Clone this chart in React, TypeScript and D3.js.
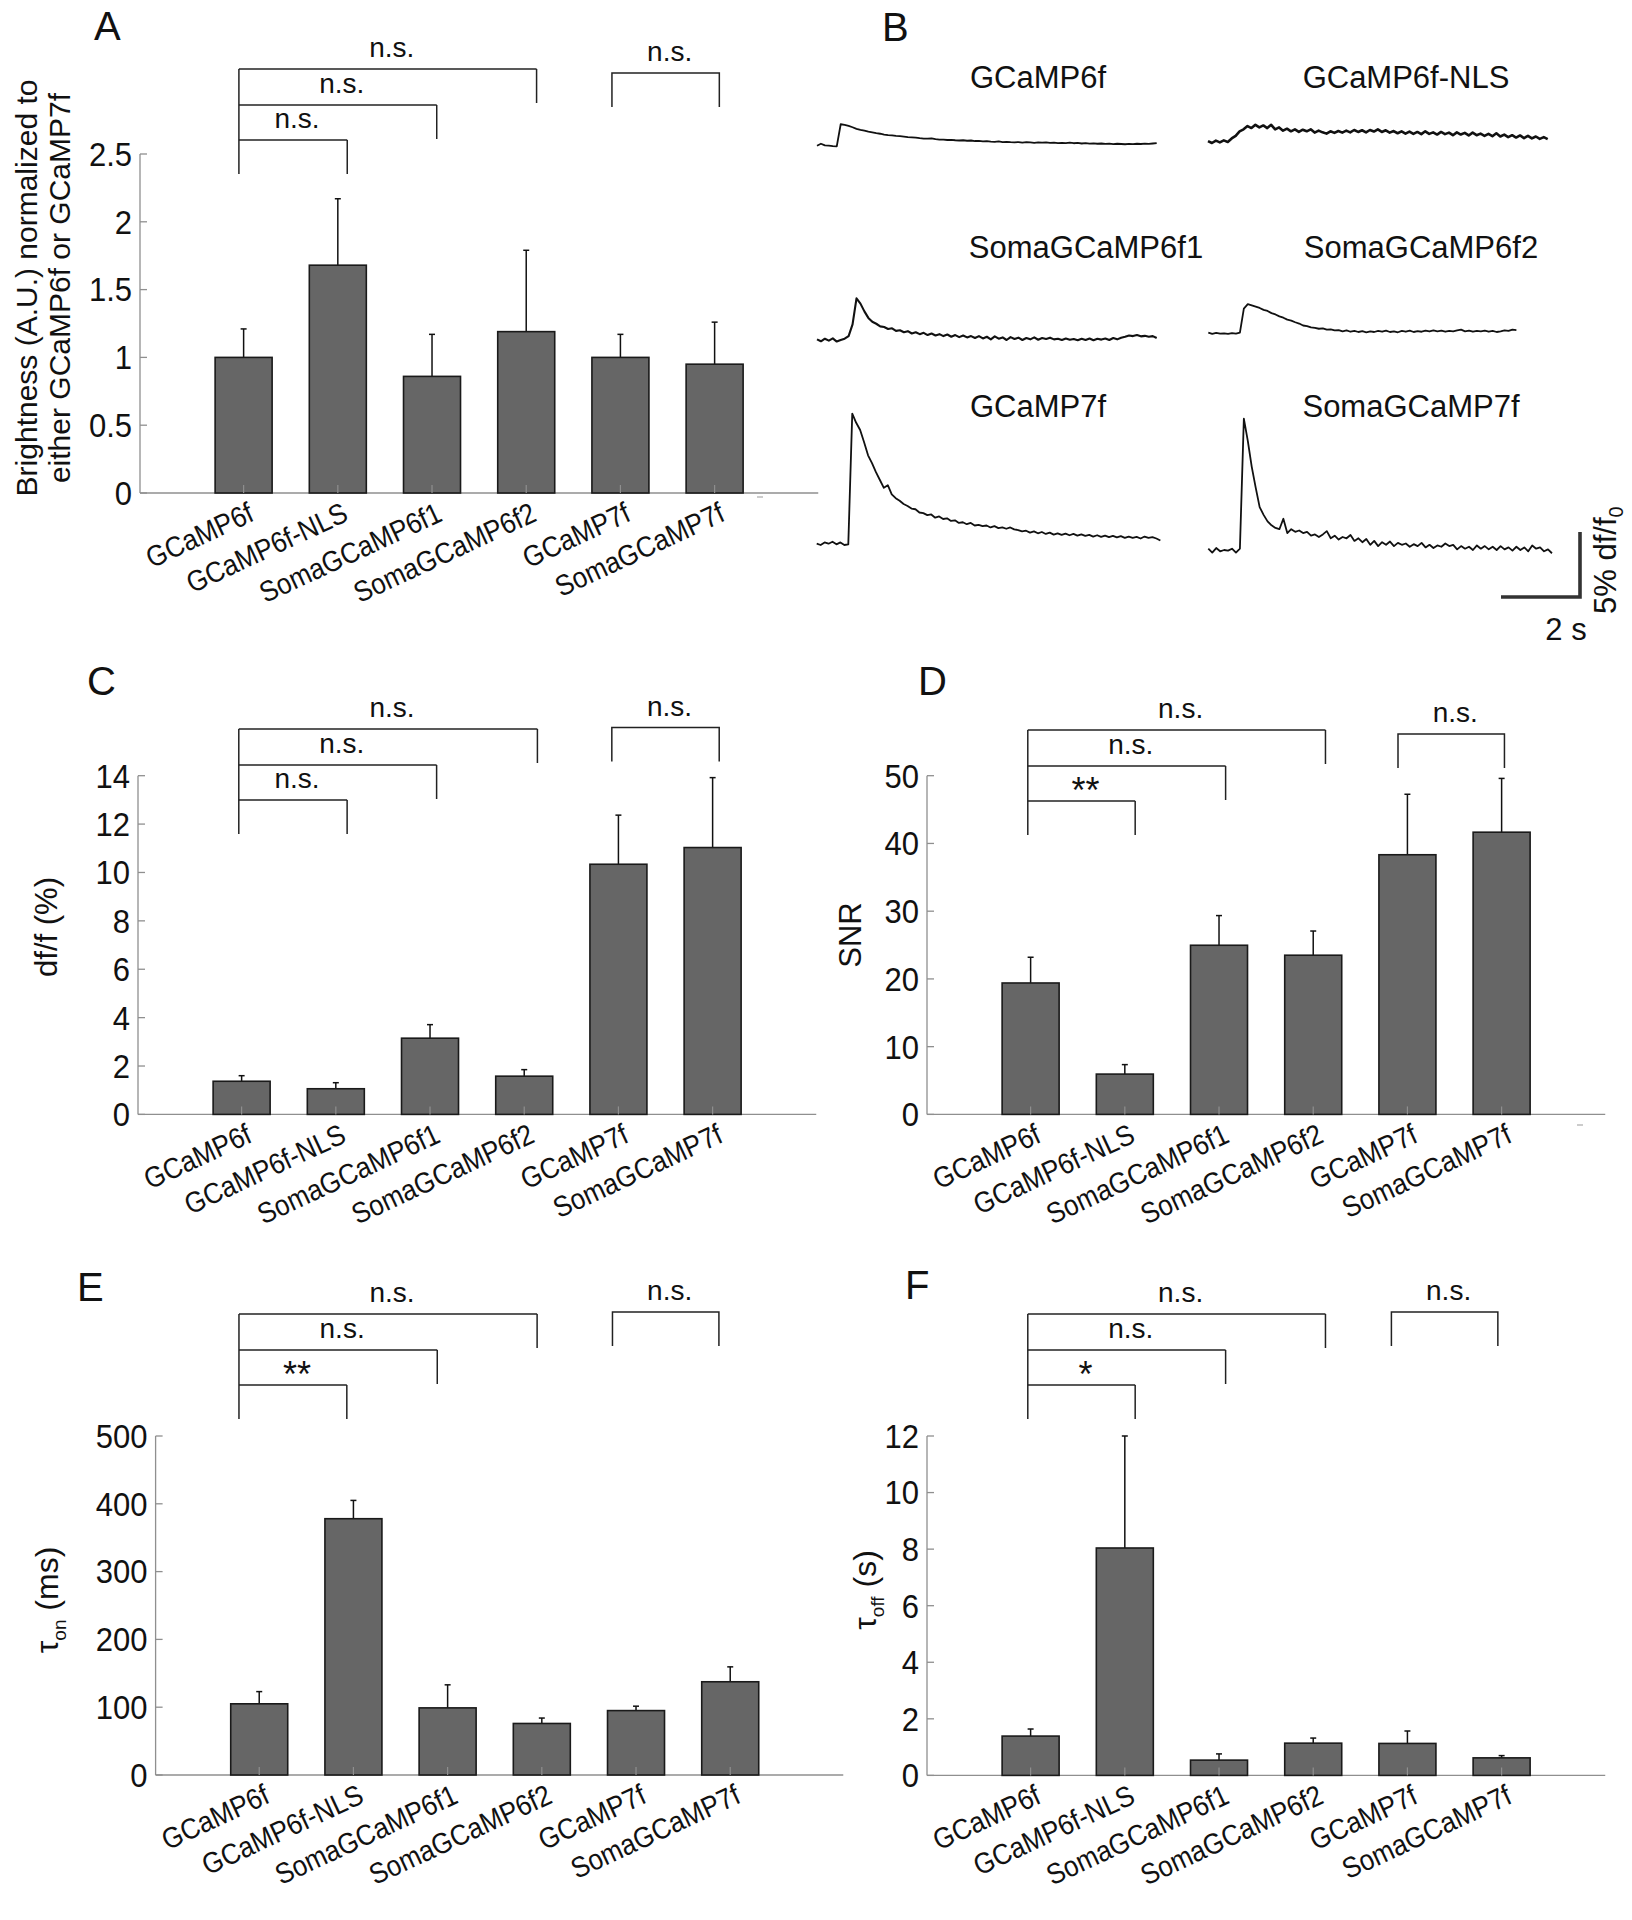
import * as d3 from 'd3';

const FONT = '"Liberation Sans", Arial, Helvetica, sans-serif';

const categories = ['GCaMP6f', 'GCaMP6f-NLS', 'SomaGCaMP6f1', 'SomaGCaMP6f2', 'GCaMP7f', 'SomaGCaMP7f'];

// Panel A: brightness (normalized)
const brightnessMean = [1.0, 1.68, 0.86, 1.19, 1.0, 0.95];
const brightnessSem = [0.21, 0.49, 0.31, 0.6, 0.17, 0.31];
const brightnessTicks = [0, 0.5, 1, 1.5, 2, 2.5];
const brightnessSig = ['n.s.', 'n.s.', 'n.s.', 'n.s.'];

// Panel C: df/f (%)
const dffMean = [1.37, 1.06, 3.15, 1.58, 10.34, 11.03];
const dffSem = [0.23, 0.25, 0.56, 0.27, 2.03, 2.89];
const dffTicks = [0, 2, 4, 6, 8, 10, 12, 14];
const dffSig = ['n.s.', 'n.s.', 'n.s.', 'n.s.'];

// Panel D: SNR
const snrMean = [19.4, 5.95, 24.97, 23.5, 38.33, 41.66];
const snrSem = [3.8, 1.4, 4.38, 3.57, 8.93, 7.94];
const snrTicks = [0, 10, 20, 30, 40, 50];
const snrSig = ['n.s.', 'n.s.', '**', 'n.s.'];

// Panel E: tau on (ms)
const tauOnMean = [105, 378, 99, 76, 95, 137.5];
const tauOnSem = [18, 27, 34, 8, 6.5, 22];
const tauOnTicks = [0, 100, 200, 300, 400, 500];
const tauOnSig = ['n.s.', 'n.s.', '**', 'n.s.'];

// Panel F: tau off (s)
const tauOffMean = [1.39, 8.04, 0.54, 1.14, 1.13, 0.62];
const tauOffSem = [0.25, 3.96, 0.22, 0.18, 0.44, 0.08];
const tauOffTicks = [0, 2, 4, 6, 8, 10, 12];
const tauOffSig = ['n.s.', 'n.s.', '*', 'n.s.'];

// bracket ends in category units: [left, top end, middle end, low end, right pair a, right pair b]
const bracketsA = [0.95, 4.11, 3.05, 2.1, 4.91, 6.05];
const bracketsC = [0.97, 4.14, 3.07, 2.12, 4.93, 6.07];
const bracketsD = [0.97, 4.13, 3.07, 2.11, 4.9, 6.03];
const bracketsE = [0.785, 3.95, 2.89, 1.93, 4.75, 5.88];
const bracketsF = [0.97, 4.13, 3.07, 2.11, 4.83, 5.96];

// Panel B: example traces, df/f (%) sampled every 0.1 s
const traceGCaMP6f = [0, 0.15, 0.02, 0, -0.03, -0.05, 1.65, 1.6, 1.52, 1.42, 1.3, 1.22, 1.16, 1.08, 1.02, 0.96, 0.92, 0.86, 0.82, 0.8, 0.76, 0.73, 0.7, 0.66, 0.64, 0.62, 0.58, 0.55, 0.54, 0.56, 0.5, 0.47, 0.46, 0.44, 0.45, 0.42, 0.4, 0.42, 0.38, 0.4, 0.36, 0.37, 0.33, 0.35, 0.32, 0.3, 0.33, 0.28, 0.3, 0.27, 0.26, 0.28, 0.24, 0.27, 0.25, 0.22, 0.25, 0.23, 0.26, 0.22, 0.24, 0.2, 0.22, 0.2, 0.23, 0.19, 0.21, 0.17, 0.2, 0.16, 0.18, 0.15, 0.17, 0.14, 0.16, 0.12, 0.15, 0.13, 0.11, 0.14, 0.12, 0.15, 0.13, 0.16, 0.14, 0.17, 0.2];
const traceNLS = [0.05, -0.1, 0.08, -0.05, 0.1, -0.02, 0.25, 0.45, 0.8, 0.95, 1.2, 1.05, 1.3, 1.1, 1.25, 1.05, 1.3, 0.95, 1.1, 0.85, 1.0, 0.8, 0.95, 0.75, 0.92, 0.8, 0.95, 0.7, 0.85, 0.72, 0.62, 0.8, 0.68, 0.82, 0.7, 0.85, 0.72, 0.9, 0.75, 0.88, 0.72, 0.9, 0.78, 0.95, 0.75, 0.88, 0.7, 0.82, 0.65, 0.8, 0.62, 0.78, 0.6, 0.75, 0.58, 0.8, 0.6, 0.72, 0.55, 0.75, 0.58, 0.7, 0.5, 0.72, 0.55, 0.68, 0.48, 0.7, 0.5, 0.62, 0.45, 0.6, 0.42, 0.65, 0.4, 0.55, 0.35, 0.5, 0.32, 0.48, 0.28, 0.45, 0.25, 0.4, 0.22, 0.35, 0.2];
const traceSoma6f1 = [0.05, -0.1, 0.1, -0.05, 0.12, -0.12, 0, 0.1, 0.3, 1.2, 3.2, 2.8, 2.2, 1.7, 1.4, 1.25, 1.05, 1.0, 0.85, 0.9, 0.7, 0.75, 0.6, 0.68, 0.5, 0.6, 0.45, 0.55, 0.38, 0.5, 0.35, 0.45, 0.3, 0.42, 0.25, 0.38, 0.22, 0.35, 0.2, 0.3, 0.15, 0.3, 0.12, 0.25, 0.05, 0.28, 0.1, 0.2, 0, 0.22, 0.08, 0.18, 0, 0.15, 0.05, 0.2, 0.02, 0.15, 0.08, 0.18, 0.05, 0.1, 0, 0.12, 0.02, 0.08, -0.02, 0.1, 0, 0.12, -0.02, 0.1, 0.03, 0.12, 0, 0.15, 0.05, 0.18, 0.25, 0.35, 0.3, 0.38, 0.28, 0.32, 0.25, 0.3, 0.15];
const traceSoma6f2 = [0.05, -0.05, 0.03, -0.03, 0, -0.05, 0.02, -0.03, 0.05, 1.9, 2.25, 2.15, 2.05, 1.95, 1.8, 1.72, 1.55, 1.45, 1.3, 1.2, 1.05, 0.98, 0.85, 0.75, 0.6, 0.55, 0.45, 0.42, 0.35, 0.38, 0.28, 0.3, 0.22, 0.25, 0.15, 0.22, 0.12, 0.18, 0.1, 0.16, 0.08, 0.15, 0.1, 0.18, 0.12, 0.2, 0.1, 0.15, 0.08, 0.18, 0.12, 0.2, 0.1, 0.16, 0.12, 0.2, 0.14, 0.22, 0.15, 0.2, 0.12, 0.18, 0.15, 0.22, 0.28, 0.15, 0.2, 0.12, 0.18, 0.15, 0.2, 0.12, 0.18, 0.1, 0.15, 0.22, 0.18, 0.28, 0.25];
const traceGCaMP7f = [0.1, 0, 0.2, 0.1, 0.25, 0.05, 0.2, 0, 0.05, 10.1, 9.4, 8.85, 7.9, 6.9, 6.3, 5.6, 5.0, 4.4, 4.6, 3.9, 3.6, 3.4, 3.15, 3.0, 2.8, 2.75, 2.5, 2.45, 2.3, 2.35, 2.1, 2.2, 2.0, 2.05, 1.85, 1.9, 1.7, 1.75, 1.6, 1.7, 1.5, 1.55, 1.45, 1.5, 1.35, 1.45, 1.3, 1.35, 1.25, 1.35, 1.2, 1.15, 1.05, 1.1, 0.95, 1.05, 0.9, 1.0, 0.85, 0.95, 0.8, 0.9, 0.78, 0.88, 0.75, 0.85, 0.72, 0.82, 0.7, 0.78, 0.65, 0.75, 0.62, 0.72, 0.6, 0.7, 0.58, 0.68, 0.55, 0.65, 0.55, 0.62, 0.5, 0.65, 0.55, 0.6, 0.5, 0.35];
const traceSoma7f = [0.1, -0.2, 0.15, -0.1, 0, -0.05, 0.1, -0.2, 0.1, 10.1, 8.4, 6.4, 4.8, 3.3, 2.7, 2.2, 1.9, 1.7, 1.6, 2.4, 1.3, 1.6, 1.4, 1.5, 1.3, 1.4, 1.1, 1.2, 1.0, 1.2, 1.45, 0.9, 1.1, 0.8, 1.0, 0.9, 1.15, 0.7, 0.9, 0.6, 0.85, 0.4, 0.7, 0.3, 0.6, 0.4, 0.65, 0.3, 0.55, 0.4, 0.5, 0.25, 0.45, 0.3, 0.55, 0.2, 0.4, 0.15, 0.35, 0.25, 0.5, 0.3, 0.4, 0.05, 0.3, 0.1, 0.25, 0, 0.35, 0.1, 0.3, 0.05, 0.25, 0, 0.3, 0.05, 0.2, -0.05, 0.25, 0, 0.2, -0.1, 0.35, 0.1, 0.2, -0.1, 0.05, -0.25];
const traceStep = 0.1; // s

const AXIS = '#8f8f8f';

type BarPanelProps = {
  letter: string;
  letterPos: [number, number];
  axisX: number;
  y0: number;
  yTop: number;
  maxV: number;
  xEnd: number;
  mean: number[];
  sem: number[];
  ticks: number[];
  sig: string[];
  brackets: number[];
  bracketTop: number;
  bracketRight: number;
  ylabel: React.ReactNode;
};

function BarPanel(p: BarPanelProps) {
  const x = d3.scaleLinear().domain([-0.1, p.xEnd]).range([p.axisX, p.axisX + (p.xEnd + 0.1) * 94.2]);
  const y = d3.scaleLinear().domain([0, p.maxV]).range([p.y0, p.yTop]);
  const bw = 57;
  const levels = [p.bracketTop, p.bracketTop + 36, p.bracketTop + 71];
  const leg = 34;
  const [left, e0, e1, e2, r0, r1] = p.brackets;
  const ends = [e0, e1, e2];
  return (
    <g fontFamily={FONT}>
      <text x={p.letterPos[0]} y={p.letterPos[1]} fontSize={40} fill="#111">{p.letter}</text>
      {p.ylabel}
      {/* axes */}
      <line x1={p.axisX} x2={p.axisX} y1={y(p.maxV)} y2={p.y0} stroke={AXIS} strokeWidth={1.3} />
      <line x1={p.axisX} x2={x(p.xEnd)} y1={p.y0} y2={p.y0} stroke={AXIS} strokeWidth={1.3} />
      {p.ticks.map((t) => (
        <g key={t}>
          <line x1={p.axisX} x2={p.axisX + 7} y1={y(t)} y2={y(t)} stroke={AXIS} strokeWidth={1.3} />
          <text transform={`translate(${p.axisX - 8},${y(t)}) scale(0.94,1)`} dy="0.36em" textAnchor="end" fontSize={33} fill="#111">{t}</text>
        </g>
      ))}
      {/* bars */}
      {p.mean.map((m, i) => (
        <g key={categories[i]}>
          <line x1={x(i + 1)} x2={x(i + 1)} y1={y(m)} y2={y(m + p.sem[i])} stroke="#111" strokeWidth={1.5} />
          <line x1={x(i + 1) - 3} x2={x(i + 1) + 3} y1={y(m + p.sem[i])} y2={y(m + p.sem[i])} stroke="#111" strokeWidth={1.5} />
          <rect x={x(i + 1) - bw / 2} y={y(m)} width={bw} height={p.y0 - y(m)} fill="#666666" stroke="#1a1a1a" strokeWidth={1.6} />
          <line x1={x(i + 1)} x2={x(i + 1)} y1={p.y0} y2={p.y0 - 8} stroke={AXIS} strokeWidth={1.2} />
          <text
            transform={`translate(${x(i + 1) + 12},${p.y0 + 27}) rotate(-25) scale(0.9,1)`}
            textAnchor="end"
            fontSize={29}
            fill="#111"
          >
            {categories[i]}
          </text>
        </g>
      ))}
      {/* significance brackets */}
      <g stroke="#222" strokeWidth={1.5} fill="none">
        <line x1={x(left)} x2={x(left)} y1={levels[0]} y2={levels[2] + leg} />
        {ends.map((e, k) => (
          <g key={k}>
            <line x1={x(left)} x2={x(e)} y1={levels[k]} y2={levels[k]} />
            <line x1={x(e)} x2={x(e)} y1={levels[k]} y2={levels[k] + leg} />
          </g>
        ))}
        <path d={`M${x(r0)},${p.bracketRight + leg}V${p.bracketRight}H${x(r1)}V${p.bracketRight + leg}`} />
      </g>
      {ends.map((e, k) => {
        const s = p.sig[k];
        const star = s.includes('*');
        return (
          <text key={k} x={(x(left) + x(e)) / 2 + 4} y={star ? levels[k] + 2 : levels[k] - 12} textAnchor="middle" fontSize={star ? 36 : 28} fill="#111">
            {s}
          </text>
        );
      })}
      <text x={(x(r0) + x(r1)) / 2 + 4} y={p.bracketRight - 12} textAnchor="middle" fontSize={28} fill="#111">
        {p.sig[3]}
      </text>
    </g>
  );
}

type TraceProps = { title: string; titlePos: [number, number]; data: number[]; x0: number; base: number; width?: number };

const pxPerSec = 39.5;
const pxPerPct = 13;

function Trace({ title, titlePos, data, x0, base, width = 1.8 }: TraceProps) {
  const t = d3.scaleLinear().domain([0, 1]).range([x0, x0 + pxPerSec]);
  const v = d3.scaleLinear().domain([0, 1]).range([base, base - pxPerPct]);
  const line = d3.line<number>().x((_, i) => t(i * traceStep)).y((d) => v(d));
  return (
    <g>
      <text x={titlePos[0]} y={titlePos[1]} textAnchor="middle" fontSize={31} fontFamily={FONT} fill="#111">{title}</text>
      <path d={line(data) ?? ''} fill="none" stroke="#111" strokeWidth={width} strokeLinejoin="round" />
    </g>
  );
}

function ScaleBar() {
  const t = d3.scaleLinear().domain([0, 1]).range([0, pxPerSec]);
  const v = d3.scaleLinear().domain([0, 1]).range([0, pxPerPct]);
  const cx = 1580;
  const cy = 597;
  return (
    <g fontFamily={FONT} fill="#111">
      <path d={`M${cx - t(2)},${cy}H${cx}V${cy - v(5)}`} fill="none" stroke="#333" strokeWidth={3.6} />
      <text x={1566} y={640} textAnchor="middle" fontSize={31}>2 s</text>
      <text transform="translate(1616,614) rotate(-90)" fontSize={31}>
        5% df/f<tspan fontSize={20} dy={7}>0</tspan>
      </text>
    </g>
  );
}

export default function App() {
  return (
    <div style={{ position: 'absolute', left: 0, top: 0 }}>
      <svg width={1632} height={1920} viewBox="0 0 1632 1920" style={{ display: 'block', background: '#fff' }}>
        <rect width={1632} height={1920} fill="#fff" />
        <BarPanel
          letter="A" letterPos={[94, 40]} axisX={140} y0={493} yTop={154} maxV={2.5} xEnd={7.1}
          mean={brightnessMean} sem={brightnessSem} ticks={brightnessTicks} sig={brightnessSig}
          brackets={bracketsA} bracketTop={69} bracketRight={73}
          ylabel={
            <text transform="translate(0,288) rotate(-90)" textAnchor="middle" fontSize={30} fill="#111">
              <tspan x={0} y={37}>Brightness (A.U.) normalized to</tspan>
              <tspan x={0} y={70}>either GCaMP6f or GCaMP7f</tspan>
            </text>
          }
        />
        <BarPanel
          letter="C" letterPos={[87, 695]} axisX={138} y0={1114.4} yTop={775.7} maxV={14} xEnd={7.1}
          mean={dffMean} sem={dffSem} ticks={dffTicks} sig={dffSig}
          brackets={bracketsC} bracketTop={729} bracketRight={727.5}
          ylabel={<text transform="translate(57,927) rotate(-90)" textAnchor="middle" fontSize={31} fill="#111">df/f (%)</text>}
        />
        <BarPanel
          letter="D" letterPos={[918, 695]} axisX={927} y0={1114.4} yTop={775.7} maxV={50} xEnd={7.1}
          mean={snrMean} sem={snrSem} ticks={snrTicks} sig={snrSig}
          brackets={bracketsD} bracketTop={730} bracketRight={734}
          ylabel={<text transform="translate(861,935) rotate(-90)" textAnchor="middle" fontSize={31} fill="#111">SNR</text>}
        />
        <BarPanel
          letter="E" letterPos={[77, 1301]} axisX={155.6} y0={1775} yTop={1436} maxV={500} xEnd={7.2}
          mean={tauOnMean} sem={tauOnSem} ticks={tauOnTicks} sig={tauOnSig}
          brackets={bracketsE} bracketTop={1314} bracketRight={1312}
          ylabel={
            <text transform="translate(58,1600) rotate(-90)" textAnchor="middle" fontSize={32} fill="#111">
              τ<tspan fontSize={19} dy={8}>on</tspan><tspan dy={-8}> (ms)</tspan>
            </text>
          }
        />
        <BarPanel
          letter="F" letterPos={[905, 1299]} axisX={927} y0={1775.4} yTop={1436} maxV={12} xEnd={7.1}
          mean={tauOffMean} sem={tauOffSem} ticks={tauOffTicks} sig={tauOffSig}
          brackets={bracketsF} bracketTop={1314} bracketRight={1312}
          ylabel={
            <text transform="translate(876,1590) rotate(-90)" textAnchor="middle" fontSize={32} fill="#111">
              τ<tspan fontSize={19} dy={8}>off</tspan><tspan dy={-8}> (s)</tspan>
            </text>
          }
        />
        {/* stray tick marks */}
        <line x1={757} x2={763} y1={497} y2={497} stroke="#999" strokeWidth={1} />
        <line x1={1577} x2={1583} y1={1125} y2={1125} stroke="#999" strokeWidth={1} />

        {/* Panel B */}
        <text x={882} y={41} fontSize={40} fontFamily={FONT} fill="#111">B</text>
        <Trace title="GCaMP6f" titlePos={[1038, 88]} data={traceGCaMP6f} x0={817} base={145.7} />
        <Trace title="GCaMP6f-NLS" titlePos={[1406, 88]} data={traceNLS} x0={1208} base={141.7} width={2.6} />
        <Trace title="SomaGCaMP6f1" titlePos={[1086, 258]} data={traceSoma6f1} x0={817} base={340} width={2.1} />
        <Trace title="SomaGCaMP6f2" titlePos={[1421, 258]} data={traceSoma6f2} x0={1208.3} base={333.3} />
        <Trace title="GCaMP7f" titlePos={[1038, 417]} data={traceGCaMP7f} x0={816.7} base={545} />
        <Trace title="SomaGCaMP7f" titlePos={[1411, 417]} data={traceSoma7f} x0={1208.3} base={550} />
        <ScaleBar />
      </svg>
    </div>
  );
}
